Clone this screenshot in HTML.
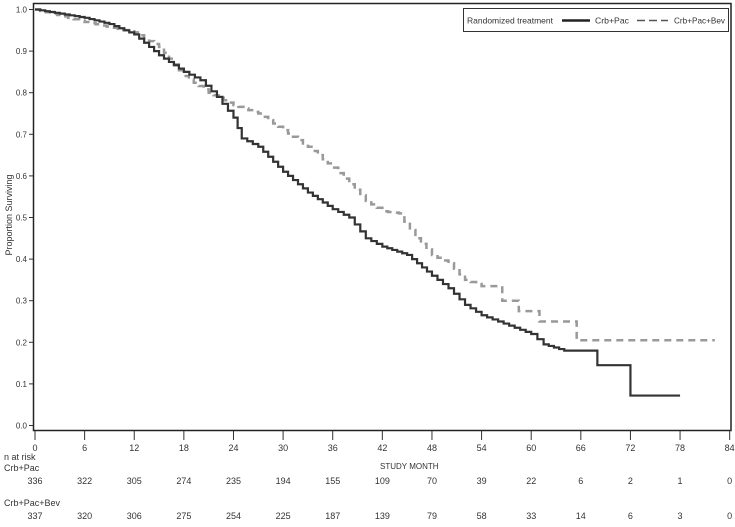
<!DOCTYPE html>
<html><head><meta charset="utf-8"><style>
body{margin:0;background:#fff;}
svg text{font-family:"Liberation Sans",sans-serif;fill:#333;}
</style></head><body>
<svg id="s" width="735" height="522" viewBox="0 0 735 522" xmlns="http://www.w3.org/2000/svg">
<rect x="33.5" y="3.5" width="697.5" height="427" fill="none" stroke="#222" stroke-width="1.5"/>
<g id="ax" font-size="9"></g>
<rect x="463.5" y="8.5" width="265" height="23" fill="#fff" stroke="#333" stroke-width="1"/>
<text x="467" y="23.5" font-size="8.5" textLength="86" lengthAdjust="spacingAndGlyphs">Randomized treatment</text>
<line x1="562" y1="20.5" x2="590" y2="20.5" stroke="#222" stroke-width="2.5"/>
<text x="595" y="23.5" font-size="8.5" textLength="34" lengthAdjust="spacingAndGlyphs">Crb+Pac</text>
<line x1="637" y1="20.5" x2="668" y2="20.5" stroke="#555" stroke-width="1.5" stroke-dasharray="8,4"/>
<text x="674" y="23.5" font-size="8.5" textLength="51" lengthAdjust="spacingAndGlyphs">Crb+Pac+Bev</text>
<text x="12" y="215" font-size="9" transform="rotate(-90 12 215)" text-anchor="middle">Proportion Surviving</text>
<text x="380" y="469" font-size="8">STUDY MONTH</text>
<text x="4" y="460" font-size="9">n at risk</text>
<text x="4" y="471" font-size="9">Crb+Pac</text>
<text x="4" y="506" font-size="9">Crb+Pac+Bev</text>
<path id="d" fill="none" stroke="#999" stroke-width="2.5" stroke-dasharray="7,5"/>
<path id="c" fill="none" stroke="#333" stroke-width="2.2"/>
</svg>
<script>
var X=m=>35+m*8.27, Y=v=>425.5-416*v;
var ax=document.getElementById('ax'),h='';
for(var i=0;i<=10;i++){var y=Y(i/10);h+='<line x1="29" x2="33" y1="'+y+'" y2="'+y+'" stroke="#333"/><text x="27" y="'+(y+3)+'" text-anchor="end" font-size="8">'+(i/10).toFixed(1)+'</text>';}
var r1=[336,322,305,274,235,194,155,109,70,39,22,6,2,1,0],r2=[337,320,306,275,254,225,187,139,79,58,33,14,6,3,0];
for(var k=0;k<=14;k++){var x=X(k*6);h+='<line x1="'+x+'" x2="'+x+'" y1="431" y2="440" stroke="#333"/><text x="'+x+'" y="451" text-anchor="middle" font-size="9">'+k*6+'</text>'+
'<text x="'+x+'" y="484" text-anchor="middle" font-size="9">'+r1[k]+'</text><text x="'+x+'" y="519" text-anchor="middle" font-size="9">'+r2[k]+'</text>';}
ax.innerHTML=h;
function step(p){var s='M'+X(p[0][0])+' '+Y(p[0][1]);for(var i=1;i<p.length;i++){s+=' H'+X(p[i][0])+' V'+Y(p[i][1]);}return s;}
function fine(p){var o=[p[0]];for(var i=1;i<p.length;i++){var a=p[i-1],b=p[i],n=Math.max(1,Math.round((b[0]-a[0])*1.5));if(b[1]==a[1])n=1;for(var j=1;j<=n;j++)o.push([a[0]+(b[0]-a[0])*j/n,a[1]+(b[1]-a[1])*j/n]);}return o;}
var c=[[0,1],[3,0.99],[6,0.98],[9,0.965],[12,0.94],[15,0.89],[18,0.85],[20,0.83],[22,0.79],[24,0.74],[25,0.69],[27,0.67],[30,0.61],[33,0.56],[36,0.52],[38,0.5],[40,0.45],[42,0.43],[45,0.41],[48,0.36],[50,0.33],[52,0.29],[54,0.265],[56,0.25],[58,0.235],[60,0.22],[61.5,0.195],[64,0.18],[64,0.18]];
var cs=step(fine(c))+' H'+X(68)+' V'+Y(0.145)+' H'+X(72)+' V'+Y(0.072)+' H'+X(78);
document.getElementById('c').setAttribute('d',cs);
var d=[[0,1],[6,0.97],[12,0.945],[15,0.91],[18,0.84],[21,0.8],[24,0.77],[27,0.75],[30,0.71],[33,0.67],[36,0.62],[38,0.58],[40,0.54],[42,0.515],[44,0.51],[46,0.45],[48,0.41],[50,0.39],[52,0.35],[54,0.335],[54,0.335]];
var ds=step(fine(d))+' H'+X(56.5)+' V'+Y(0.30)+' H'+X(58.5)+' V'+Y(0.275)+' H'+X(61)+' V'+Y(0.25)+' H'+X(65.5)+' V'+Y(0.205)+' H'+X(82.2);
document.getElementById('d').setAttribute('d',ds);
</script>
</body></html>
